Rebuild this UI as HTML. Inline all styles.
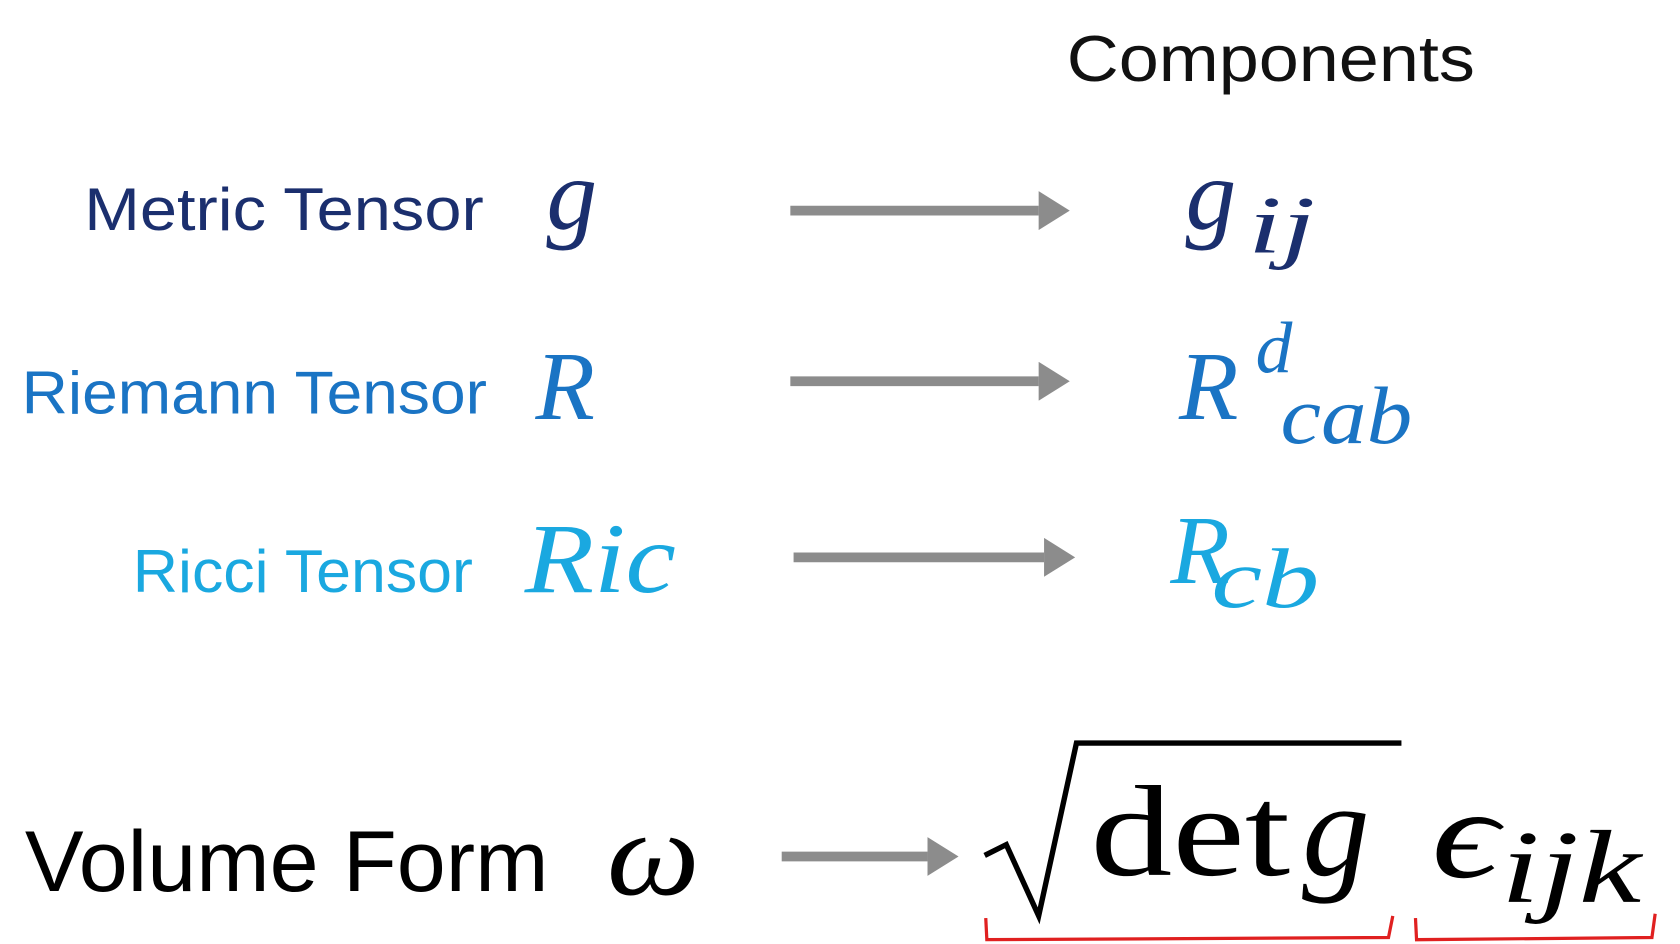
<!DOCTYPE html>
<html><head><meta charset="utf-8"><style>
html,body{margin:0;padding:0;background:#fff;width:1680px;height:944px;overflow:hidden}
svg{display:block}
.sans{font-family:"Liberation Sans",sans-serif}
.it{font-family:"Liberation Serif","DejaVu Serif",serif;font-style:italic}
.rm{font-family:"Liberation Serif","DejaVu Serif",serif}
</style></head><body>
<svg width="1680" height="944" viewBox="0 0 1556 874" preserveAspectRatio="none">
<defs><marker id="ah" markerWidth="4" markerHeight="4" refX="0" refY="2" orient="auto" markerUnits="strokeWidth"><path d="M0,0 L3.2,2 L0,4 Z" fill="#8c8c8c"/></marker></defs>
<text class="sans" x="988" y="75" font-size="60" textLength="378" lengthAdjust="spacingAndGlyphs" fill="#111">Components</text>

<text class="sans" x="78" y="213" font-size="56" textLength="370" lengthAdjust="spacingAndGlyphs" fill="#1b2f6e">Metric Tensor</text>
<text class="it" x="506" y="212" font-size="94" fill="#1b2f6e">g</text>
<line x1="732" y1="195" x2="962" y2="195" stroke="#8c8c8c" stroke-width="9" marker-end="url(#ah)"/>
<text class="it" x="1098" y="212" font-size="94" fill="#1b2f6e">g</text>
<text class="it" x="1156" y="234" font-size="76" textLength="62" lengthAdjust="spacingAndGlyphs" fill="#1b2f6e">ij</text>

<text class="sans" x="20" y="383" font-size="56" textLength="431" lengthAdjust="spacingAndGlyphs" fill="#1a74c4">Riemann Tensor</text>
<text class="it" x="496" y="388" font-size="90" fill="#1a74c4">R</text>
<line x1="732" y1="353" x2="962" y2="353" stroke="#8c8c8c" stroke-width="9" marker-end="url(#ah)"/>
<text class="it" x="1092" y="388" font-size="90" fill="#1a74c4">R</text>
<text class="it" x="1163" y="345" font-size="68" fill="#1a74c4">d</text>
<text class="it" x="1186" y="410" font-size="76" textLength="122" lengthAdjust="spacingAndGlyphs" fill="#1a74c4">cab</text>

<text class="sans" x="123" y="548" font-size="56" textLength="315" lengthAdjust="spacingAndGlyphs" fill="#1aa8e0">Ricci Tensor</text>
<text class="it" x="486" y="548" font-size="92" textLength="140" lengthAdjust="spacingAndGlyphs" fill="#1aa8e0">Ric</text>
<line x1="735" y1="516" x2="967" y2="516" stroke="#8c8c8c" stroke-width="9" marker-end="url(#ah)"/>
<text class="it" x="1084" y="540" font-size="90" fill="#1aa8e0">R</text>
<text class="it" x="1122" y="562" font-size="78" textLength="100" lengthAdjust="spacingAndGlyphs" fill="#1aa8e0">cb</text>

<text class="sans" x="23" y="825" font-size="80" textLength="485" lengthAdjust="spacingAndGlyphs" fill="#000">Volume Form</text>
<text class="it" x="562" y="828" font-size="112" textLength="86" lengthAdjust="spacingAndGlyphs" fill="#000">ω</text>
<line x1="724" y1="793" x2="859" y2="793" stroke="#8c8c8c" stroke-width="9" marker-end="url(#ah)"/>
<path d="M912,792 L932,782 L962,848 L997,688 L1298,688" fill="none" stroke="#000" stroke-width="5"/>
<text class="rm" x="1010" y="810" font-size="120" textLength="185" lengthAdjust="spacingAndGlyphs" fill="#000">det</text>
<text class="it" x="1206" y="810" font-size="125" fill="#000">g</text>
<text class="it" x="1326" y="812" font-size="118" textLength="62" lengthAdjust="spacingAndGlyphs" fill="#000">ϵ</text>
<text class="it" x="1390" y="835" font-size="96" textLength="130" lengthAdjust="spacingAndGlyphs" fill="#000">ijk</text>
<path d="M913,850 L914,870 L1286,868 L1290,848" fill="none" stroke="#e02020" stroke-width="3"/>
<path d="M1311,850 L1312,870 L1530,868 L1533,846" fill="none" stroke="#e02020" stroke-width="3"/>
</svg>
</body></html>
